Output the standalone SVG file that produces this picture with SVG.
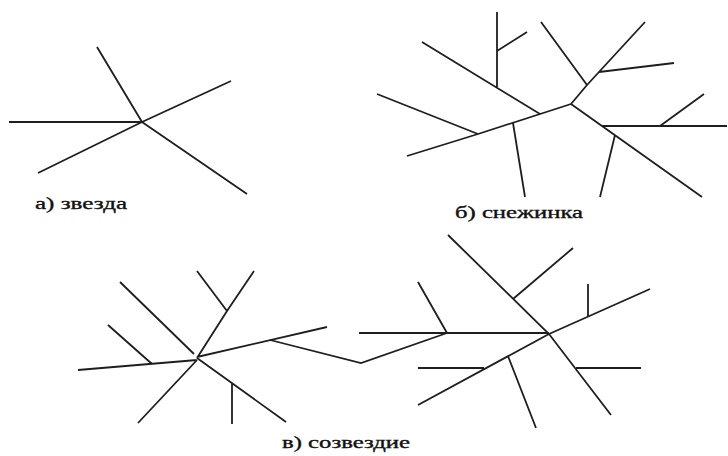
<svg xmlns="http://www.w3.org/2000/svg" width="728" height="456" viewBox="0 0 728 456">
  <style>
    .ln { stroke: #1e1e1e; stroke-width: 1.8; fill: none; stroke-linecap: butt; stroke-linejoin: miter; }
    .cap { font-family: "Liberation Serif", "DejaVu Serif", serif; font-size: 16px; fill: #111111; stroke: #111111; stroke-width: 0.35; }
  </style>
  <rect width="728" height="456" fill="#ffffff"/>

  <!-- а) star: single centre with five rays -->
  <g id="star">
    <path class="ln" d="M97,47 L142,122 M9,122 L142,122 M38,173 L142,122 L231,81 M142,122 L247,194"/>
    <text class="cap" x="35" y="209" textLength="92" lengthAdjust="spacingAndGlyphs">а) звезда</text>
  </g>

  <!-- б) snowflake: branching tree -->
  <g id="snowflake">
    <path class="ln" d="M377,94 L478,134 M407,156 L478,134 L571,104 M513,123 L525,197 M422,42 L540,114 M497,12 L497,87 M497,51 L527,32 M571,104 L587,85 L645,22 M587,85 L541,22 M599,72 L674,63 M571,104 L702,197 M602,126 L727,126 M660,126 L704,94 M615,135 L600,197"/>
    <text class="cap" x="455" y="218" textLength="128" lengthAdjust="spacingAndGlyphs">б) снежинка</text>
  </g>

  <!-- в) constellation: two clusters -->
  <g id="cluster-left">
    <path class="ln" d="M78,370 L197,360 M152,364 L108,325 M120,282 L194,354 M197,358 L227,311 L254,271 M227,311 L197,271 M197,357 L327,327 M197,360 L138,423 M197,358 L286,422 M232,383 L232,424"/>
  </g>
  <g id="cluster-right">
    <path class="ln" d="M359,333 L549,333 M447,333 L418,282 M448,235 L549,334 L611,415 M513,299 L573,248 M576,368 L641,368 M549,334 L650,289 M588,316 L588,284 M549,334 L418,405 M508,356 L536,428 M418,368 L484,368"/>
  </g>
  <g id="connectors">
    <path class="ln" d="M270,340 L361,363 L447,333"/>
  </g>
  <text class="cap" x="282" y="448" textLength="128" lengthAdjust="spacingAndGlyphs">в) созвездие</text>
</svg>
